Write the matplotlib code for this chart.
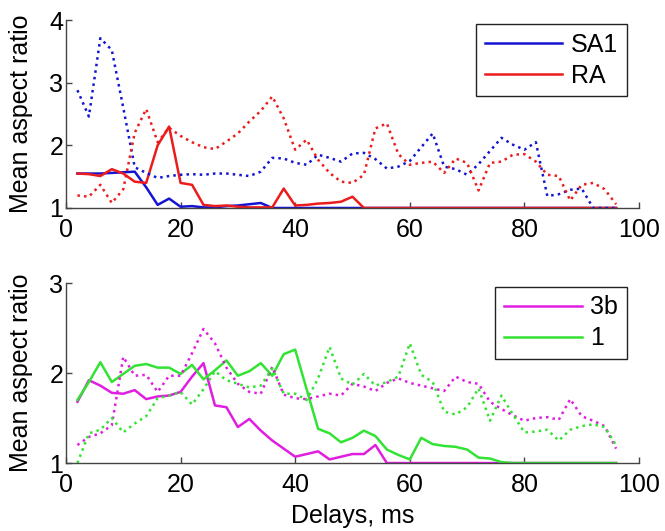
import matplotlib
matplotlib.use("Agg")
import matplotlib.pyplot as plt

plt.rcParams['font.family'] = ['Liberation Sans', 'DejaVu Sans']

delays = list(range(2, 98, 2))

# upper panel: SA1 / RA
sa1_solid = [1.55, 1.55, 1.55, 1.56, 1.57, 1.58, 1.33, 1.05, 1.15, 1.02,
             1.03, 1.01, 1.01, 1.03, 1.04, 1.06, 1.08, 1.0, 1.0, 1.0,
             1.0, 1.0, 1.0, 1.0, 1.0, 1.0, 1.0, 1.0, 1.0, 1.0,
             1.0, 1.0, 1.0, 1.0, 1.0, 1.0, 1.0, 1.0, 1.0, 1.0,
             1.0, 1.0, 1.0, 1.0, 1.0, 1.0, 1.0, 1.0]
sa1_dot = [2.88, 2.46, 3.71, 3.52, 2.6, 1.65, 1.56, 1.48, 1.51, 1.53,
           1.54, 1.53, 1.55, 1.55, 1.53, 1.51, 1.58, 1.8, 1.79, 1.72,
           1.69, 1.85, 1.8, 1.74, 1.87, 1.88, 1.78, 1.63, 1.66, 1.75,
           1.97, 2.19, 1.66, 1.62, 1.53, 1.7, 1.91, 2.12, 2.01, 1.93,
           2.05, 1.19, 1.22, 1.29, 1.31, 1.0, 1.0, 1.0]
ra_solid = [1.55, 1.54, 1.51, 1.62, 1.55, 1.42, 1.4, 2.0, 2.3, 1.4,
            1.37, 1.05, 1.03, 1.04, 1.02, 1.01, 1.01, 1.01, 1.31, 1.04,
            1.05, 1.07, 1.08, 1.1, 1.18, 1.0, 1.0, 1.0, 1.0, 1.0,
            1.0, 1.0, 1.0, 1.0, 1.0, 1.0, 1.0, 1.0, 1.0, 1.0,
            1.0, 1.0, 1.0, 1.0, 1.0, 1.0, 1.0, 1.0]
ra_dot = [1.2, 1.18, 1.37, 1.08, 1.3, 2.2, 2.58, 2.05, 2.28, 2.15,
          2.05, 1.97, 1.94, 2.06, 2.19, 2.38, 2.55, 2.78, 2.43, 1.93,
          2.09, 1.77, 1.56, 1.42, 1.4, 1.53, 2.27, 2.35, 1.86, 1.69,
          1.72, 1.74, 1.56, 1.79, 1.72, 1.28, 1.72, 1.74, 1.85, 1.86,
          1.74, 1.53, 1.51, 1.12, 1.37, 1.4, 1.3, 1.06]

# lower panel: area 3b / area 1
b3_solid = [1.68, 1.92, 1.86, 1.78, 1.77, 1.81, 1.71, 1.74, 1.75, 1.79,
            1.96, 2.11, 1.64, 1.62, 1.4, 1.49, 1.36, 1.25, 1.16, 1.07,
            1.1, 1.13, 1.04, 1.07, 1.1, 1.1, 1.2, 1.0, 1.0, 1.0,
            1.0, 1.0, 1.0, 1.0, 1.0, 1.0, 1.0, 1.0, 1.0, 1.0,
            1.0, 1.0, 1.0, 1.0, 1.0, 1.0, 1.0, 1.0]
b3_dot = [1.2, 1.29, 1.33, 1.42, 2.18, 1.97, 1.98, 1.79, 1.97, 1.97,
          2.22, 2.49, 2.33, 2.06, 1.88, 1.79, 1.77, 2.07, 1.76, 1.72,
          1.71, 1.74, 1.77, 1.75, 1.88, 1.85, 1.8, 1.89, 1.94, 1.89,
          1.86, 1.83, 1.8, 1.96, 1.9, 1.88, 1.68, 1.6, 1.53, 1.47,
          1.5, 1.51, 1.48, 1.71, 1.52, 1.47, 1.41, 1.16]
a1_solid = [1.7, 1.9, 2.12, 1.9, 1.99, 2.08, 2.1, 2.06, 2.06, 1.99,
            2.09, 1.93, 2.03, 2.14, 1.97, 2.02, 2.11, 1.97, 2.21, 2.26,
            1.82, 1.38, 1.33, 1.23, 1.28, 1.36, 1.3, 1.15, 1.09, 1.04,
            1.28, 1.21, 1.19, 1.18, 1.15, 1.06, 1.05, 1.01, 1.0, 1.0,
            1.0, 1.0, 1.0, 1.0, 1.0, 1.0, 1.0, 1.0]
a1_dot = [1.0, 1.33, 1.37, 1.5, 1.34, 1.44, 1.52, 1.72, 1.75, 1.79,
          1.65, 1.82, 2.02, 1.92, 1.88, 1.84, 1.86, 2.05, 1.77, 1.77,
          1.7, 1.94, 2.29, 1.94, 1.87, 1.99, 1.86, 1.9, 1.96, 2.33,
          1.98, 1.9, 1.57, 1.54, 1.62, 1.83, 1.47, 1.75, 1.54, 1.34,
          1.35, 1.37, 1.25, 1.37, 1.41, 1.43, 1.4, 1.2]

blue = '#1414d2'
red = '#ec1c1c'
magenta = '#e01ee0'
green = '#33e333'

fs = 18

fig = plt.figure(figsize=(6.65, 5.31), dpi=100)
ax1 = fig.add_axes([0.0992, 0.6083, 0.8617, 0.354])
ax2 = fig.add_axes([0.0992, 0.128, 0.8617, 0.339])

lw = 1.8
ax1.plot(delays, sa1_solid, color=blue, lw=lw, label='SA1')
ax1.plot(delays, ra_solid, color=red, lw=lw, label='RA')
ax1.plot(delays, sa1_dot, color=blue, lw=lw, ls=':')
ax1.plot(delays, ra_dot, color=red, lw=lw, ls=':')
ax1.set_ylim(1, 4)
ax1.set_yticks([1, 2, 3, 4])

ax2.plot(delays, b3_solid, color=magenta, lw=lw, label='3b')
ax2.plot(delays, a1_solid, color=green, lw=lw, label='1')
ax2.plot(delays, b3_dot, color=magenta, lw=lw, ls=':')
ax2.plot(delays, a1_dot, color=green, lw=lw, ls=':')
ax2.set_ylim(1, 3)
ax2.set_yticks([1, 2, 3])
ax2.set_xlabel('Delays, ms', fontsize=fs, labelpad=5)

for ax in (ax1, ax2):
    ax.set_xlim(0, 100)
    ax.set_xticks([0, 20, 40, 60, 80, 100])
    for s in ('top', 'right'):
        ax.spines[s].set_visible(False)
    for s in ('left', 'bottom'):
        ax.spines[s].set_color('#444444')
        ax.spines[s].set_linewidth(1.0)
    ax.tick_params(direction='in', length=4, width=1, color='#444444',
                   labelsize=fs)
    ax.tick_params(axis='y', pad=2)
    ax.tick_params(axis='x', pad=7)
    ax.set_ylabel('Mean aspect ratio', fontsize=fs)
    ax.yaxis.set_label_coords(-0.058, 0.5)
    leg = ax.legend(loc='upper right', bbox_to_anchor=(0.979, 0.98),
                    borderaxespad=0, fancybox=False, framealpha=1,
                    edgecolor='#222222', fontsize=fs, handlelength=3.1,
                    handletextpad=0.35, labelspacing=0.28, borderpad=0.35)
    leg.get_frame().set_linewidth(1.0)

fig.savefig('out.png', dpi=100)
